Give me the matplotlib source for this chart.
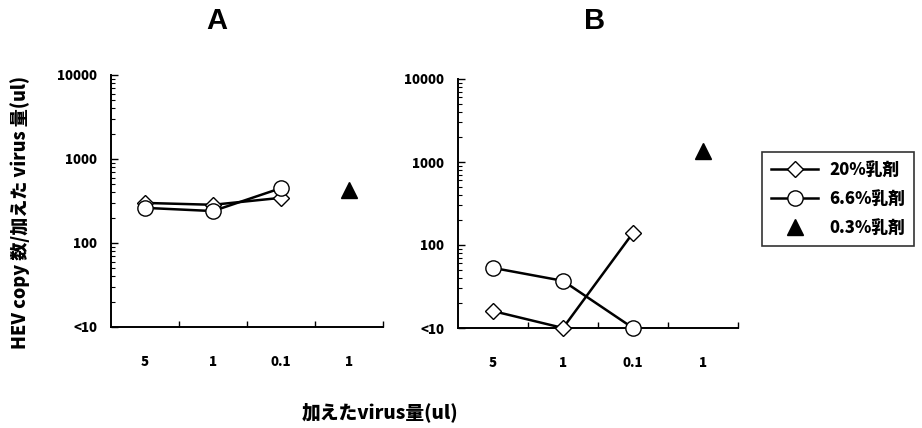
import matplotlib
matplotlib.use("Agg")
import matplotlib.pyplot as plt
from matplotlib.ticker import LogLocator, FixedLocator, NullFormatter, FixedFormatter
from matplotlib.lines import Line2D

plt.rcParams['font.family'] = ['Noto Sans CJK JP', 'DejaVu Sans']

categories = ["5", "1", "0.1", "1"]
y_ticks = [10, 100, 1000, 10000]
y_ticklabels = ["<10", "100", "1000", "10000"]

# Panel A
a_20 = [300, 285, 345]
a_66 = [262, 240, 450]
a_03 = [430]
# Panel B
b_20 = [16, 10, 140]
b_66 = [53, 37, 10]
b_03 = [1350]

series_names = ["20%乳剤", "6.6%乳剤", "0.3%乳剤"]

W = 'heavy'

fig = plt.figure(figsize=(9.22, 4.28), dpi=100)

def style_axes(ax):
    ax.set_yscale('log')
    ax.set_ylim(10, 10000)
    ax.set_xlim(-0.5, 3.5)
    for s in ['top', 'right']:
        ax.spines[s].set_visible(False)
    for s in ['left', 'bottom']:
        ax.spines[s].set_linewidth(1.4)
    ax.yaxis.set_major_locator(FixedLocator(y_ticks))
    ax.yaxis.set_major_formatter(FixedFormatter(y_ticklabels))
    ax.yaxis.set_minor_locator(LogLocator(base=10, subs=range(2, 10)))
    ax.yaxis.set_minor_formatter(NullFormatter())
    ax.tick_params(axis='y', which='major', direction='in', length=5, width=1, pad=10,
                   labelsize=9.5)
    ax.tick_params(axis='y', which='minor', direction='in', length=3, width=0.8)
    ax.set_xticks([0.5, 1.5, 2.5, 3.5])
    ax.set_xticklabels([])
    ax.set_xticks(range(len(categories)), minor=True)
    ax.set_xticklabels(categories, minor=True)
    ax.tick_params(axis='x', which='major', direction='in', length=4, width=1)
    ax.tick_params(axis='x', which='minor', length=0, pad=20, labelsize=9.5)
    for lab in ax.get_yticklabels() + ax.get_xticklabels(minor=True):
        lab.set_fontweight(W)

def draw(ax, s20, s66, s03):
    x3 = list(range(len(s20)))
    ax.plot(x3, s20, color='black', lw=1.8, marker='D', ms=8, mfc='white',
            mec='black', mew=1.0, clip_on=False, zorder=3)
    ax.plot(x3, s66, color='black', lw=1.8, marker='o', ms=11, mfc='white',
            mec='black', mew=1.0, clip_on=False, zorder=3)
    ax.plot([3], s03, linestyle='none', marker='^', ms=11, color='black',
            clip_on=False, zorder=3)

axA = fig.add_axes([111/922, 1-327/428, (383-111)/922, (327-75)/428])
style_axes(axA)
draw(axA, a_20, a_66, a_03)

axB = fig.add_axes([458/922, 1-328/428, (738-458)/922, (328-79)/428])
style_axes(axB)
draw(axB, b_20, b_66, b_03)

fig.text(217/922, 1-21/428, "A", ha='center', va='center', fontsize=21,
         fontweight='bold', family=['Liberation Sans', 'DejaVu Sans'])
fig.text(595/922, 1-21/428, "B", ha='center', va='center', fontsize=21,
         fontweight='bold', family=['Liberation Sans', 'DejaVu Sans'])

fig.text(20/922, 1-212/428, "HEV copy 数/加えた virus 量(ul)", rotation=90,
         ha='center', va='center', fontsize=13, fontweight=W)
fig.text(380/922, 1-412/428, "加えたvirus量(ul)", ha='center', va='center',
         fontsize=13.5, fontweight=W)

handles = [
    Line2D([], [], color='black', lw=1.8, marker='D', ms=8, mfc='white', mec='black'),
    Line2D([], [], color='black', lw=1.8, marker='o', ms=11, mfc='white', mec='black'),
    Line2D([], [], color='black', linestyle='none', marker='^', ms=11),
]
leg = fig.legend(handles, series_names, loc='upper left',
                 bbox_to_anchor=(762/922, 1-152/428), frameon=True, fancybox=False,
                 edgecolor='black', handlelength=2.8, borderpad=0.55, labelspacing=0.65,
                 handletextpad=0.7, borderaxespad=0,
                 prop={'size': 12, 'weight': W})
leg.get_frame().set_linewidth(1.2)

fig.savefig("out.png", dpi=100, facecolor='white')
